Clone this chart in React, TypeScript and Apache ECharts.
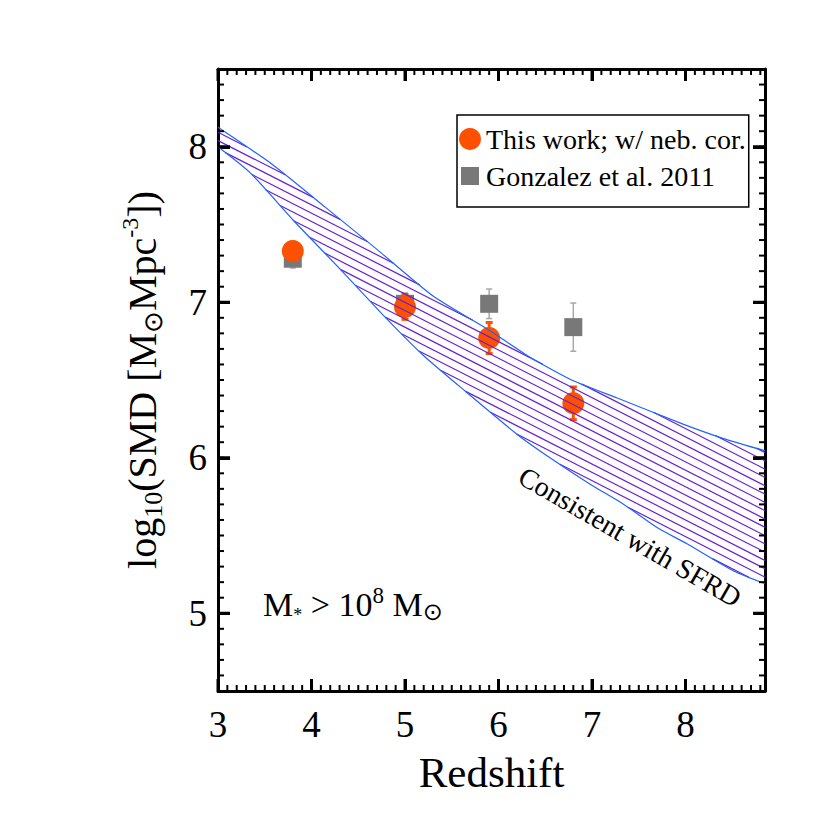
import React, { useEffect, useRef } from "react";
import * as echarts from "echarts";

// ---------- data ----------
const xTicks = [3, 4, 5, 6, 7, 8];
const yTicks = [5, 6, 7, 8];

const thisWorkZ = [3.8, 5.0, 5.9, 6.8];
const thisWorkSMD = [7.33, 6.97, 6.77, 6.35];
const thisWorkErr = [0.03, 0.08, 0.1, 0.105];

const gonzalezZ = [3.8, 5.0, 5.9, 6.8];
const gonzalezSMD = [7.28, 6.99, 6.99, 6.84];
const gonzalezErr = [0.06, 0.07, 0.095, 0.155];

const bandUpperZ = [3.0, 3.575, 4.15, 4.7, 5.3, 5.9, 6.34, 6.8, 7.27, 7.98, 8.45, 8.85];
const bandUpperSMD = [8.125, 7.889, 7.61, 7.34, 7.04, 6.82, 6.645, 6.495, 6.384, 6.215, 6.115, 6.045];
const bandLowerZ = [3.0, 3.34, 3.81, 4.306, 4.81, 5.2, 5.66, 6.2, 6.55, 6.98, 7.34, 7.7, 8.02, 8.52, 8.85];
const bandLowerSMD = [8.0, 7.835, 7.524, 7.213, 6.89, 6.656, 6.42, 6.15, 6.0, 5.83, 5.7, 5.55, 5.445, 5.27, 5.19];

const seriesNames = ["This work; w/ neb. cor.", "Gonzalez et al. 2011"];

// ---------- styles ----------
const FONT = "Liberation Serif";
const ORANGE = "#ff5000";
const GRAY = "#787878";
const BLUE = "#1e64ff";
const PURPLE = "#6a22cc";

const X_MIN = 3, X_MAX = 8.85, Y_MIN = 4.5, Y_MAX = 8.5;
const MINOR_STEP = 0.1;

// minor tick positions (every 0.1 inside the axis range)
function minorValues(lo: number, hi: number) {
  const out: number[] = [];
  const n = Math.floor((hi - lo) / MINOR_STEP + 1e-6);
  for (let i = 1; i <= n; i++) {
    const v = Math.round((lo + i * MINOR_STEP) * 100) / 100;
    if (v < hi - 1e-6) out.push(v);
  }
  return out;
}
const xMinor = minorValues(X_MIN, X_MAX);
const yMinor = minorValues(Y_MIN, Y_MAX);

function baseAxis(pos: string, isX: boolean, withLabels: boolean, ticks: number[]) {
  return {
    type: "value",
    position: pos,
    min: isX ? X_MIN : Y_MIN,
    max: isX ? X_MAX : Y_MAX,
    axisLine: { show: true, onZero: false, lineStyle: { color: "#000", width: 3 } },
    axisTick: { show: true, inside: true, length: 12, customValues: ticks, lineStyle: { color: "#000", width: 3 } },
    axisLabel: withLabels
      ? { show: true, customValues: ticks, margin: isX ? 15 : 11, fontFamily: FONT, fontSize: 37, color: "#000" }
      : { show: false },
    splitLine: { show: false },
  } as any;
}

function errorBarSeries(name: string, z: number[], v: number[], e: number[], color: string, width: number, cap: number, zlev: number) {
  return {
    type: "custom",
    name: name + " err",
    xAxisIndex: 0,
    yAxisIndex: 0,
    z: zlev,
    silent: true,
    data: z.map((zz, i) => [zz, v[i] - e[i], v[i] + e[i]]),
    renderItem: (params: any, api: any) => {
      const x = api.value(0);
      const lo = api.coord([x, api.value(1)]);
      const hi = api.coord([x, api.value(2)]);
      const st = { stroke: color, lineWidth: width, fill: "none" };
      return {
        type: "group",
        children: [
          { type: "line", shape: { x1: lo[0], y1: lo[1], x2: hi[0], y2: hi[1] }, style: st },
          { type: "line", shape: { x1: lo[0] - cap, y1: lo[1], x2: lo[0] + cap, y2: lo[1] }, style: st },
          { type: "line", shape: { x1: hi[0] - cap, y1: hi[1], x2: hi[0] + cap, y2: hi[1] }, style: st },
        ],
      };
    },
  } as any;
}

function bandSeries() {
  return {
    type: "custom",
    name: "band",
    xAxisIndex: 0,
    yAxisIndex: 0,
    z: 10,
    silent: true,
    data: [[bandUpperZ[0], bandUpperSMD[0]]],
    renderItem: (params: any, api: any) => {
      const upper = bandUpperZ.map((z, i) => api.coord([z, bandUpperSMD[i]]));
      const lower = bandLowerZ.map((z, i) => api.coord([z, bandLowerSMD[i]]));
      const poly = [...upper, ...lower.slice().reverse()];
      const ang = (27 * Math.PI) / 180;
      const d = [Math.cos(ang), Math.sin(ang)];
      const n = [-Math.sin(ang), Math.cos(ang)];
      let cmin = Infinity, cmax = -Infinity;
      for (const p of poly) {
        const c = n[0] * p[0] + n[1] * p[1];
        cmin = Math.min(cmin, c);
        cmax = Math.max(cmax, c);
      }
      const step = 7.4;
      const children: any[] = [];
      for (let c = cmin + step * 0.6; c < cmax; c += step) {
        const pts: number[][] = [];
        for (let i = 0; i < poly.length; i++) {
          const p1 = poly[i], p2 = poly[(i + 1) % poly.length];
          const f1 = n[0] * p1[0] + n[1] * p1[1] - c;
          const f2 = n[0] * p2[0] + n[1] * p2[1] - c;
          if ((f1 < 0) !== (f2 < 0)) {
            const t = f1 / (f1 - f2);
            pts.push([p1[0] + t * (p2[0] - p1[0]), p1[1] + t * (p2[1] - p1[1])]);
          }
        }
        pts.sort((a, b) => d[0] * a[0] + d[1] * a[1] - (d[0] * b[0] + d[1] * b[1]));
        for (let k = 0; k + 1 < pts.length; k += 2) {
          children.push({
            type: "line",
            shape: { x1: pts[k][0], y1: pts[k][1], x2: pts[k + 1][0], y2: pts[k + 1][1] },
            style: { stroke: PURPLE, lineWidth: 1.2, fill: "none" },
          });
        }
      }
      children.push({ type: "polyline", shape: { points: upper, smooth: 0.2 }, style: { stroke: BLUE, lineWidth: 1.2, fill: "none" } });
      children.push({ type: "polyline", shape: { points: lower, smooth: 0.2 }, style: { stroke: BLUE, lineWidth: 1.2, fill: "none" } });
      return { type: "group", children };
    },
  } as any;
}

const richSmall = (size: number, va: string) => ({ fontFamily: FONT, fontSize: size, lineHeight: size, verticalAlign: va, color: "#000" });

const annotations: any[] = [
  {
    type: "text",
    x: 263,
    y: 604,
    silent: true,
    style: {
      text: "M{s|*} > 10{p|8} M{s2|⊙}",
      fontFamily: FONT,
      fontSize: 34,
      lineHeight: 40,
      fill: "#000",
      verticalAlign: "middle",
      rich: {
        s: { fontFamily: FONT, fontSize: 18, lineHeight: 18, verticalAlign: "bottom", fill: "#000" },
        s2: { fontFamily: "DejaVu Sans", fontSize: 24, lineHeight: 22, verticalAlign: "bottom", fill: "#000" },
        p: { fontFamily: FONT, fontSize: 23, lineHeight: 22, verticalAlign: "top", fill: "#000" },
      },
    },
  },
  {
    type: "text",
    x: 630,
    y: 537,
    rotation: (-30 * Math.PI) / 180,
    silent: true,
    style: {
      text: "Consistent with SFRD",
      fontFamily: FONT,
      fontSize: 28,
      fill: "#000",
      align: "center",
      verticalAlign: "middle",
    },
  },
];

const option: any = {
  animation: false,
  backgroundColor: "#fff",
  textStyle: { fontFamily: FONT },
  grid: { left: 218, top: 69, width: 547, height: 622, containLabel: false },
  xAxis: [
    {
      ...baseAxis("bottom", true, true, xTicks),
      name: "Redshift",
      nameLocation: "middle",
      nameGap: 60,
      nameTextStyle: { fontFamily: FONT, fontSize: 43, color: "#000" },
    },
    baseAxis("top", true, false, xTicks),
  ],
  yAxis: [
    {
      ...baseAxis("left", false, true, yTicks),
      name: "log{sub|10}(SMD [M{sub2|⊙}Mpc{sup|-3}])",
      nameLocation: "middle",
      nameRotate: 90,
      nameGap: 52,
      nameTextStyle: {
        fontFamily: FONT,
        fontSize: 40,
        lineHeight: 48,
        color: "#000",
        rich: {
          sub: richSmall(26, "bottom"),
          sub2: richSmall(26, "bottom"),
          sup: richSmall(24, "top"),
        },
      },
    },
    baseAxis("right", false, false, yTicks),
  ],
  legend: {
    orient: "vertical",
    left: 457,
    top: 115,
    padding: [10, 3, 17, 2],
    itemGap: 9,
    itemWidth: 22,
    itemHeight: 22,
    borderColor: "#000",
    borderWidth: 1.5,
    backgroundColor: "#fff",
    selectedMode: false,
    textStyle: { fontFamily: FONT, fontSize: 28, lineHeight: 26, color: "#000" },
    data: [
      { name: seriesNames[0], icon: "circle" },
      { name: seriesNames[1], icon: "path://M0,0M22,22M2,2L20,2L20,20L2,20Z" },
    ],
  },
  graphic: annotations,
  series: [
    errorBarSeries(seriesNames[1], gonzalezZ, gonzalezSMD, gonzalezErr, "#a8a8a8", 1.5, 3, 1),
    {
      type: "scatter",
      name: seriesNames[1],
      xAxisIndex: 0,
      yAxisIndex: 0,
      z: 2,
      symbol: "rect",
      symbolSize: 18,
      itemStyle: { color: GRAY, opacity: 1 },
      emphasis: { disabled: true },
      data: gonzalezZ.map((z, i) => [z, gonzalezSMD[i]]),
    },
    errorBarSeries(seriesNames[0], thisWorkZ, thisWorkSMD, thisWorkErr, ORANGE, 3, 3.5, 3),
    {
      type: "scatter",
      name: seriesNames[0],
      xAxisIndex: 0,
      yAxisIndex: 0,
      z: 4,
      symbol: "circle",
      symbolSize: 22,
      itemStyle: { color: ORANGE, opacity: 1 },
      emphasis: { disabled: true },
      data: thisWorkZ.map((z, i) => [z, thisWorkSMD[i]]),
    },
    bandSeries(),
  ],
};

export default function App() {
  const ref = useRef<HTMLDivElement>(null);
  useEffect(() => {
    const chart = echarts.init(ref.current!, null, { renderer: "svg" });
    chart.setOption(option);
    // frame tick marks (all four sides), placed through the grid's own scales
    const px = (x: number, y: number) => chart.convertToPixel({ xAxisIndex: 0, yAxisIndex: 0 }, [x, y]) as number[];
    const tickEls: any[] = [];
    const rect = (x: number, y: number, w: number, h: number) =>
      tickEls.push({ type: "rect", silent: true, z: 100, shape: { x, y, width: w, height: h }, style: { fill: "#000" } });
    const addX = (v: number, len: number, w: number) => {
      const b = px(v, Y_MIN);
      const t = px(v, Y_MAX);
      rect(b[0] - w / 2, b[1] - len, w, len);
      rect(t[0] - w / 2, t[1], w, len);
    };
    const addY = (v: number, len: number, w: number) => {
      const l = px(X_MIN, v);
      const r = px(X_MAX, v);
      rect(l[0], l[1] - w / 2, len, w);
      rect(r[0] - len, r[1] - w / 2, len, w);
    };
    xMinor.forEach((v) => addX(v, 6, 2));
    yMinor.forEach((v) => addY(v, 6, 2));
    xTicks.forEach((v) => addX(v, 12, 3));
    yTicks.forEach((v) => addY(v, 12, 3));
    chart.setOption({ graphic: [...annotations, ...tickEls] });
    return () => chart.dispose();
  }, []);
  return (
    <div
      ref={ref}
      style={{ position: "absolute", left: 0, top: 0, width: 830, height: 830, background: "#fff" }}
    />
  );
}
